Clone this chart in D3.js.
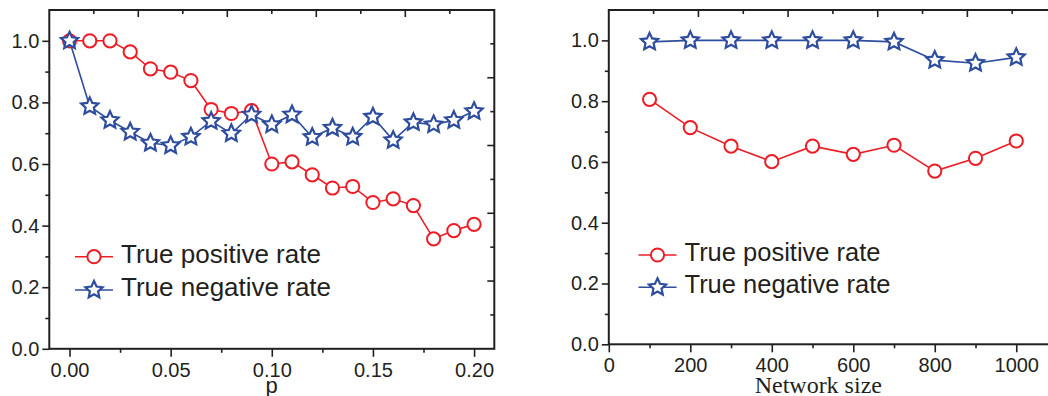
<!DOCTYPE html>
<html>
<head>
<meta charset="utf-8">
<script src="https://cdn.jsdelivr.net/npm/d3@7"></script>
<style>
  html, body { margin: 0; padding: 0; background: #fff; }
  svg { display: block; }
</style>
</head>
<body>
<svg id="chart" width="1048" height="396"></svg>
<script>
// ---------- DATA ----------
const pValues = [0.00,0.01,0.02,0.03,0.04,0.05,0.06,0.07,0.08,0.09,0.10,0.11,0.12,0.13,0.14,0.15,0.16,0.17,0.18,0.19,0.20];
const tprByP = [1.0,1.0,1.0,0.964,0.909,0.898,0.871,0.777,0.764,0.773,0.600,0.607,0.565,0.522,0.527,0.475,0.487,0.465,0.357,0.384,0.404];
const tnrByP = [1.0,0.787,0.742,0.704,0.668,0.660,0.688,0.739,0.699,0.760,0.728,0.760,0.687,0.717,0.688,0.753,0.677,0.735,0.728,0.742,0.771];

const networkSizes = [100,200,300,400,500,600,700,800,900,1000];
const tprBySize = [0.806,0.713,0.652,0.601,0.652,0.625,0.655,0.570,0.612,0.669];
const tnrBySize = [0.995,1.0,1.0,1.0,1.0,1.0,0.995,0.935,0.925,0.944];

const pTicks = [0.00,0.05,0.10,0.15,0.20];
const pMinorTicks = [0.025,0.075,0.125,0.175];
const sizeTicks = [0,200,400,600,800,1000];
const sizeMinorTicks = [100,300,500,700,900];
const yTicks = [0.0,0.2,0.4,0.6,0.8,1.0];
const yMinorTicks = [0.1,0.3,0.5,0.7,0.9];
const legendLabels = ["True positive rate","True negative rate"];

// ---------- STYLE ----------
const RED = "#ee1c25", BLUE = "#2e4d9e", INK = "#231f20";
const svg = d3.select("#chart");

function starPath(R, r) {
  const p = d3.path();
  for (let i = 0; i < 10; i++) {
    const a = -Math.PI / 2 + i * Math.PI / 5;
    const rad = i % 2 === 0 ? R : r;
    const x = rad * Math.cos(a), y = rad * Math.sin(a);
    if (i === 0) p.moveTo(x, y); else p.lineTo(x, y);
  }
  p.closePath();
  return p.toString();
}
const STAR = starPath(9, 4.3);

function panel(cfg) {
  const g = svg.append("g");
  const x = d3.scaleLinear().domain(cfg.xDomain).range([cfg.left, cfg.right]);
  const y = d3.scaleLinear().domain([0, 1.1]).range([cfg.bottom, cfg.top]);

  // bottom axis
  const bx = g.append("g").attr("transform", `translate(0,${cfg.bottom})`)
    .call(d3.axisBottom(x).tickValues(cfg.xTicks).tickSize(8).tickPadding(6).tickFormat(cfg.xFmt));
  g.append("g").attr("transform", `translate(0,${cfg.bottom})`)
    .call(d3.axisBottom(x).tickValues(cfg.xMinor).tickSize(4).tickFormat(""));
  // left axis
  g.append("g").attr("transform", `translate(${cfg.left},0)`)
    .call(d3.axisLeft(y).tickValues(yTicks).tickSize(7).tickPadding(3).tickFormat(d3.format(".1f")));
  g.append("g").attr("transform", `translate(${cfg.left},0)`)
    .call(d3.axisLeft(y).tickValues(yMinorTicks).tickSize(4).tickFormat(""));

  g.selectAll(".domain").remove();
  g.selectAll(".tick line").attr("stroke", INK).attr("stroke-width", 1.6);
  g.selectAll(".tick text").attr("fill", INK)
    .style("font-family", "'Liberation Sans', Arial, sans-serif").style("font-size", "20px");

  // opposite-side ticks (top and right, pointing inward, 10 divisions)
  const div = d3.scaleLinear().domain([0, 10]);
  const fx = div.copy().range([cfg.left, cfg.right]);
  const fy = div.copy().range([cfg.bottom, cfg.top]);
  d3.range(1, 10).forEach(i => {
    const len = i % 2 === 0 ? 7 : 4;
    g.append("line").attr("x1", fx(i)).attr("x2", fx(i)).attr("y1", cfg.top).attr("y2", cfg.top + len)
      .attr("stroke", INK).attr("stroke-width", 1.6);
    g.append("line").attr("y1", fy(i)).attr("y2", fy(i)).attr("x1", cfg.right).attr("x2", cfg.right - len)
      .attr("stroke", INK).attr("stroke-width", 1.6);
  });

  // frame
  g.append("rect").attr("x", cfg.left).attr("y", cfg.top)
    .attr("width", cfg.right - cfg.left).attr("height", cfg.bottom - cfg.top)
    .attr("fill", "none").attr("stroke", INK).attr("stroke-width", 2);

  // series
  const line = d3.line().x(d => x(d[0])).y(d => y(d[1]));
  const tnr = cfg.xs.map((v, i) => [v, cfg.tnr[i]]);
  const tpr = cfg.xs.map((v, i) => [v, cfg.tpr[i]]);

  g.append("path").datum(tpr).attr("d", line).attr("fill", "none").attr("stroke", RED).attr("stroke-width", 1.6);
  g.append("path").datum(tnr).attr("d", line).attr("fill", "none").attr("stroke", BLUE).attr("stroke-width", 1.6);
  g.selectAll(".c").data(tpr).enter().append("circle")
    .attr("cx", d => x(d[0])).attr("cy", d => y(d[1])).attr("r", 6.6)
    .attr("fill", "#fff").attr("stroke", RED).attr("stroke-width", 2);
  g.selectAll(".s").data(tnr).enter().append("path")
    .attr("d", STAR).attr("transform", d => `translate(${x(d[0])},${y(d[1])})`)
    .attr("fill", "#fff").attr("stroke", BLUE).attr("stroke-width", 2.2).attr("stroke-linejoin", "miter");

  // legend
  const L = cfg.legend;
  [0, 1].forEach(k => {
    const ly = L.y + k * L.dy;
    const col = k === 0 ? RED : BLUE;
    g.append("line").attr("x1", L.x).attr("x2", L.x + 38).attr("y1", ly).attr("y2", ly)
      .attr("stroke", col).attr("stroke-width", 1.6);
    if (k === 0) {
      g.append("circle").attr("cx", L.x + 19).attr("cy", ly).attr("r", 6.6)
        .attr("fill", "#fff").attr("stroke", RED).attr("stroke-width", 2);
    } else {
      g.append("path").attr("d", STAR).attr("transform", `translate(${L.x + 19},${ly})`)
        .attr("fill", "#fff").attr("stroke", BLUE).attr("stroke-width", 2.2);
    }
    g.append("text").attr("x", L.x + 46).attr("y", ly + 6 + L.base)
      .attr("fill", INK).style("font-family", "'Liberation Sans', Arial, sans-serif")
      .style("font-size", L.size + "px").text(legendLabels[k]);
  });

  // axis title
  g.append("text").attr("x", cfg.titleX).attr("y", 393).attr("text-anchor", "middle")
    .attr("fill", INK).style("font-family", cfg.titleFont).style("font-size", cfg.titleSize + "px")
    .text(cfg.title);
}

panel({
  xDomain: [-0.01, 0.21], left: 49.3, right: 494.3, top: 10, bottom: 348.8,
  xTicks: pTicks, xMinor: pMinorTicks, xFmt: d3.format(".2f"),
  xs: pValues, tpr: tprByP, tnr: tnrByP,
  legend: { x: 75, y: 256.7, dy: 33.3, size: 26, base: 0 },
  title: "p", titleX: 271.7, titleFont: "'Liberation Sans', Arial, sans-serif", titleSize: 22
});

panel({
  xDomain: [0, 1100], left: 608.8, right: 1057, top: 10, bottom: 344.3,
  xTicks: sizeTicks, xMinor: sizeMinorTicks, xFmt: d3.format("d"),
  xs: networkSizes, tpr: tprBySize, tnr: tnrBySize,
  legend: { x: 638.5, y: 255, dy: 32.3, size: 25.5, base: 0 },
  title: "Network size", titleX: 818.3, titleFont: "'Liberation Serif', 'Times New Roman', serif", titleSize: 24
});
</script>
</body>
</html>
